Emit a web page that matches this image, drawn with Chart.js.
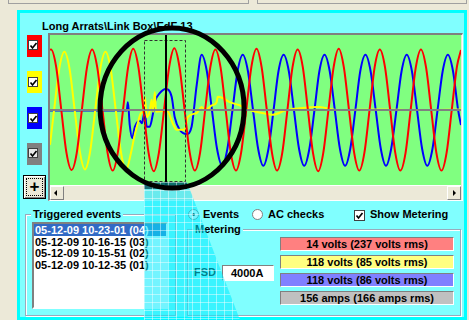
<!DOCTYPE html>
<html><head><meta charset="utf-8">
<script src="https://cdn.jsdelivr.net/npm/chart.js@4"></script>
<style>
html,body{margin:0;padding:0;}
body{width:469px;height:320px;overflow:hidden;position:relative;background:#ece9d8;font:bold 11px "Liberation Sans",Arial,sans-serif;color:#000;}
.a{position:absolute;box-sizing:border-box;}
.t{position:absolute;white-space:nowrap;line-height:12px;}
.cb{position:absolute;width:10px;height:10px;background:#fff;border:1px solid #404040;box-sizing:border-box;}
.cb svg{position:absolute;left:0;top:0;}
.grp{position:absolute;box-sizing:border-box;border:1px solid #9ab;box-shadow:inset 1px 1px 0 #fff,1px 1px 0 #fff;}
.bar{position:absolute;box-sizing:border-box;border:1px solid;border-color:#808080 #fff #fff #808080;text-align:center;line-height:12px;}
</style></head><body>

<div class="a" style="left:8px;top:-10px;width:241px;height:14px;border:1px solid #a0a0a0;background:#ece9d8"></div>
<div class="a" style="left:257px;top:-10px;width:210px;height:14px;border:1px solid #a0a0a0;background:#ece9d8"></div>

<div class="a" style="left:17px;top:10px;width:450px;height:310px;border:3px solid #00ffff;background:#80ffff"></div>

<div class="t" style="left:42px;top:20px;">Long Arrats\Link Box\EdF 13</div>

<!-- channel selectors -->
<div class="a" style="left:27px;top:35px;width:15px;height:22px;background:#ff0000"></div>
<div class="cb" style="left:28px;top:40px"><svg width="10" height="10"><polyline points="1.5,4.5 3.5,7 7.5,2" fill="none" stroke="#000" stroke-width="1.7"/></svg></div>
<div class="a" style="left:27px;top:71px;width:15px;height:22px;background:#ffff00"></div>
<div class="cb" style="left:28px;top:77px"><svg width="10" height="10"><polyline points="1.5,4.5 3.5,7 7.5,2" fill="none" stroke="#000" stroke-width="1.7"/></svg></div>
<div class="a" style="left:27px;top:107px;width:15px;height:22px;background:#0000ff"></div>
<div class="cb" style="left:28px;top:113px"><svg width="10" height="10"><polyline points="1.5,4.5 3.5,7 7.5,2" fill="none" stroke="#000" stroke-width="1.7"/></svg></div>
<div class="a" style="left:27px;top:143px;width:15px;height:22px;background:#808080"></div>
<div class="cb" style="left:28px;top:148px;background:#e8e8e8"><svg width="10" height="10"><polyline points="1.5,4.5 3.5,7 7.5,2" fill="none" stroke="#000" stroke-width="1.7"/></svg></div>

<div class="a" style="left:23px;top:175px;width:23px;height:24px;background:#ece9d8;border:1px solid #000;box-shadow:inset 1px 1px 0 #fff,inset -1px -1px 0 #808080"></div>
<div class="a" style="left:26px;top:178px;width:17px;height:18px;border:1px dotted #000"></div>
<div class="t" style="left:23px;top:180px;width:23px;text-align:center;font-size:17px;line-height:14px;">+</div>

<!-- plot frame -->
<div class="a" style="left:48px;top:33px;width:415px;height:168px;border-top:2px solid #808080;border-left:2px solid #808080;border-right:1px solid #fff;border-bottom:1px solid #fff;background:#ece9d8"></div>
<div class="a" style="left:50px;top:35px;width:411px;height:150px;background:#80ff80">
  <canvas id="c" width="411" height="150"></canvas>
</div>
<!-- scrollbar -->
<div class="a" style="left:50px;top:185px;width:411px;height:15px;background:#ece9d8;border-top:1px solid #fff"></div>
<div class="a" style="left:50px;top:186px;width:14px;height:14px;background:#ece9d8;border:1px solid;border-color:#fff #808080 #808080 #fff"></div>
<div class="a" style="left:54px;top:190px;width:0;height:0;border-top:3px solid transparent;border-bottom:3px solid transparent;border-right:3px solid #000"></div>
<div class="a" style="left:447px;top:186px;width:14px;height:14px;background:#ece9d8;border:1px solid;border-color:#fff #808080 #808080 #fff"></div>
<div class="a" style="left:453px;top:190px;width:0;height:0;border-top:3px solid transparent;border-bottom:3px solid transparent;border-left:3px solid #000"></div>

<!-- Triggered events -->
<div class="grp" style="left:25px;top:214px;width:151px;height:102px"></div>
<div class="t" style="left:31px;top:208px;background:#80ffff;padding:0 2px">Triggered events</div>
<div class="a" style="left:32px;top:222px;width:136px;height:87px;background:#fff;border:2px solid;border-color:#808080 #fff #fff #808080"></div>
<div class="a" style="left:34px;top:224px;width:132px;height:12px;background:#316ac5"></div>
<div class="t" style="left:35px;top:224px;color:#fff">05-12-09 10-23-01 (04)</div>
<div class="t" style="left:35px;top:236px">05-12-09 10-16-15 (03)</div>
<div class="t" style="left:35px;top:247px">05-12-09 10-15-51 (02)</div>
<div class="t" style="left:35px;top:259px">05-12-09 10-12-35 (01)</div>

<!-- radios -->
<div class="a" style="left:188px;top:209px;width:11px;height:11px;border-radius:50%;background:#fff;border:1px solid #808080"></div>
<div class="a" style="left:192px;top:213px;width:3px;height:3px;border-radius:50%;background:#000"></div>
<div class="t" style="left:203px;top:208px">Events</div>
<div class="a" style="left:252px;top:209px;width:11px;height:11px;border-radius:50%;background:#fff;border:1px solid #808080"></div>
<div class="t" style="left:268px;top:208px">AC checks</div>
<div class="cb" style="left:354px;top:210px;width:11px;height:11px"><svg width="10" height="10"><polyline points="1.5,4.5 3.5,7 7.5,2" fill="none" stroke="#000" stroke-width="1.7"/></svg></div>
<div class="t" style="left:370px;top:208px">Show Metering</div>

<!-- Metering -->
<div class="grp" style="left:187px;top:229px;width:274px;height:87px"></div>
<div class="t" style="left:193px;top:223px;background:#80ffff;padding:0 2px">Metering</div>
<div class="t" style="left:194px;top:266px;font-weight:bold">FSD</div>
<div class="a" style="left:222px;top:265px;width:52px;height:16px;background:#fff;border:1px solid;border-color:#808080 #fff #fff #808080"></div>
<div class="t" style="left:231px;top:267px">4000A</div>
<div class="bar" style="left:280px;top:237px;width:174px;height:14px;background:#ff8080">14 volts (237 volts rms)</div>
<div class="bar" style="left:280px;top:255px;width:174px;height:14px;background:#ffff80">118 volts (85 volts rms)</div>
<div class="bar" style="left:280px;top:273px;width:174px;height:14px;background:#8080ff">118 volts (86 volts rms)</div>
<div class="bar" style="left:280px;top:291px;width:174px;height:14px;background:#c0c0c0">156 amps (166 amps rms)</div>

<canvas id="ov" width="469" height="320" style="position:absolute;left:0;top:0;pointer-events:none"></canvas>

<script>
// time in ms (0..200), values in % of display full scale
const redT = [0,0.5,3,5.5,8,10.5,13,15.5,18,20.5,23,25.5,28,30.5,33,35.5,38,40.5,43,45.5,48,50.5,53,55.5,58,60.5,63,65.5,68,70.5,73,75.5,78,80.5,83,85.5,88,90.5,93,95.5,98,100.5,103,105.5,108,110.5,113,115.5,118,120.5,123,125.5,128,130.5,133,135.5,138,140.5,143,145.5,148,150.5,153,155.5,158,160.5,163,165.5,168,170.5,173,175.5,178,180.5,183,185.5,188,190.5,193,195.5,198,200];
const redV = [100,
  101,72,0,-71,-100,-72,0,71,
  101,71,1,-71,-101,-71,-1,71,
  102,72,0,-72,-102,-71,0,72,
  103,72,0,-71,-101,-72,0,71,
  101,71,0,-72,-101,-71,0,72,
  102,71,0,-71,-101,-72,-1,71,
  101,72,0,-72,-102,-71,0,71,
  102,71,0,-71,-101,-71,0,72,
  101,72,1,-71,-101,-72,0,71,
  101,71,0,-71,-101,-71,0,72,
  100];

const yelT = [0,2,4.5,7,9.5,12,14.5,17,19.5,22,24.5,27,29.5,32,34.5,37,39.5,41,42.7,44.3,45.4,46.1,47.1,48.5,49.5,50.2,51,51.6,54,56.8,59.7,61.6,65.5,67,71.4,73.8,75.2,79,81.1,81.6,84,87.4,92.2,97.1,103.4,108.3,115,121.4,131,139.3,160,180,200];
const yelV = [-58,0,69,97,69,0,-69,-99,-70,0,69,97,69,0,-70,-100,-70,-45,-22,-5,-2,22,-12,-3,17,-3,30,-3,-2,0,-22,-33,-33,-12,-5,5,0,8,13,22,20,13,8,0,-5,-8,0,3,5,0,1,0,1];

const bluT = [0,37,37.4,37.9,38.8,40,41.3,43.7,44.7,46.1,47.1,48.5,50,51,53.4,56.3,59.2,60.7,63.1,66.5,68.9,71.4,
  73.8,76.3,78.8,81.3,83.8,86.3,88.8,91.3,93.8,96.3,98.8,101.3,103.8,106.3,108.8,111.2,113.7,116.2,118.7,121.2,123.7,126.2,128.7,131.1,
  133.6,136.1,138.6,141.1,143.6,146.1,148.6,151,153.5,156,158.5,161,163.5,166,168.6,171.1,173.6,176.1,178.6,181.1,183.6,186.1,188.6,191.1,193.6,196.1,198.6,200];
const bluV = [-1,-1,0,13,-25,-47,-28,-18,-22,-3,-28,-28,-8,13,28,35,22,-12,-33,-40,-28,42,
  92,65,0,-65,-93,-65,0,65,92,65,0,-65,-93,-65,0,65,92,65,0,-65,-93,-65,0,65,
  92,65,0,-65,-93,-65,0,65,92,65,0,-65,-93,-65,0,65,92,65,0,-65,-93,-65,0,65,92,65,0,-25];

const greyT = [0,200];
const greyV = [0,0];

const cursorT = 56.4;
const zoomBoxT = [45.7, 65.7];
const zoomBoxV = [116.7, -118.3];
const circleT = 59.4, circleV = 3.3;

function pts(T,V){ return T.map((t,i)=>({x:t,y:V[i]})); }

const cursorPlugin = {
  id:'cursor',
  afterDatasetsDraw(chart){
    const {ctx, scales:{x,y}} = chart;
    ctx.save();
    const x0=Math.round(x.getPixelForValue(zoomBoxT[0]))+0.5, x1=Math.round(x.getPixelForValue(zoomBoxT[1]))+0.5;
    const y0=Math.round(y.getPixelForValue(zoomBoxV[0]))+0.5, y1=Math.round(y.getPixelForValue(zoomBoxV[1]))+0.5;
    ctx.setLineDash([3,2]); ctx.strokeStyle='#303030'; ctx.lineWidth=1;
    ctx.strokeRect(x0,y0,x1-x0,y1-y0);
    ctx.setLineDash([]);
    const cx=Math.round(x.getPixelForValue(cursorT));
    ctx.strokeStyle='#000'; ctx.lineWidth=2;
    ctx.beginPath(); ctx.moveTo(cx,0); ctx.lineTo(cx,chart.height); ctx.stroke();
    ctx.restore();
  }
};

const chart = new Chart(document.getElementById('c'), {
  type:'line',
  data:{datasets:[
    {label:'I', data:pts(greyT,greyV), borderColor:'#808080', borderWidth:2},
    {label:'R', data:pts(redT,redV), borderColor:'#ff0000', borderWidth:2},
    {label:'Y', data:pts(yelT,yelV), borderColor:'#ffff00', borderWidth:2},
    {label:'B', data:pts(bluT,bluV), borderColor:'#0000ff', borderWidth:2}
  ]},
  options:{
    responsive:false, animation:false, devicePixelRatio:1,
    layout:{padding:0},
    scales:{x:{type:'linear',min:0,max:200,display:false}, y:{min:-125,max:125,display:false}},
    plugins:{legend:{display:false}, tooltip:{enabled:false}},
    elements:{point:{radius:0}, line:{cubicInterpolationMode:'monotone', fill:false}}
  },
  plugins:[cursorPlugin]
});

// overlay: magnifier circle & beam
(function(){
  const ov=document.getElementById('ov').getContext('2d');
  const xs=chart.scales.x, ys=chart.scales.y;
  const offX=50, offY=35;
  const bl=offX+Math.round(xs.getPixelForValue(zoomBoxT[0])), br=offX+Math.round(xs.getPixelForValue(zoomBoxT[1]))+2;
  const bt=offY+Math.round(ys.getPixelForValue(zoomBoxV[1]))+1;
  ov.save();
  ov.beginPath();
  ov.moveTo(bl,bt); ov.lineTo(br,bt); ov.lineTo(240,320); ov.lineTo(bl,320); ov.closePath();
  ov.fillStyle='rgba(0,235,255,0.55)'; ov.fill();
  ov.clip();
  ov.fillStyle='rgba(0,70,80,0.75)'; ov.fillRect(bl,bt,br-bl,7);
  ov.strokeStyle='rgba(255,255,255,0.45)'; ov.lineWidth=1;
  for(let gx=bl+0.5; gx<260; gx+=8){ ov.beginPath(); ov.moveTo(gx,bt); ov.lineTo(gx,320); ov.stroke(); }
  for(let gy=bt+0.5; gy<320; gy+=8){ ov.beginPath(); ov.moveTo(bl,gy); ov.lineTo(260,gy); ov.stroke(); }
  ov.restore();
  const cx=offX+xs.getPixelForValue(circleT), cy=offY+ys.getPixelForValue(circleV);
  ov.beginPath(); ov.ellipse(cx,cy,72,80,0,0,Math.PI*2);
  ov.lineWidth=5; ov.strokeStyle='#000'; ov.stroke();
})();
</script>
</body></html>
